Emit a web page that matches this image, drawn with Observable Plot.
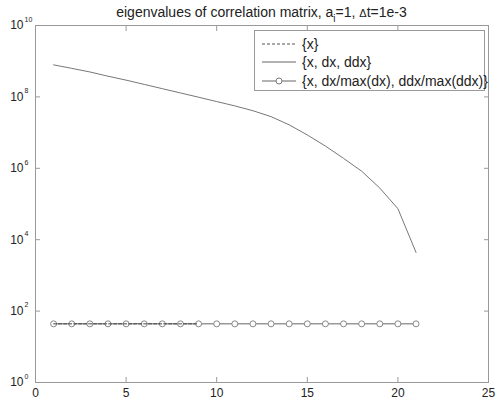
<!DOCTYPE html>
<html><head><meta charset="utf-8">
<script src="https://cdn.jsdelivr.net/npm/d3@7"></script>
<script src="https://cdn.jsdelivr.net/npm/@observablehq/plot@0.6"></script>
<style>
body{margin:0;background:#fff;font-family:"Liberation Sans",Arial,sans-serif;}
#wrap{position:relative;width:496px;height:409px;}
#title{position:absolute;left:0;width:523px;top:4px;text-align:center;font-size:14px;line-height:16px;color:#222;}
#legend{position:absolute;left:254px;top:30px;width:229px;height:59px;border:1px solid #999;background:#fff;font-size:14px;color:#222;}
.row{position:absolute;left:0;height:18px;white-space:nowrap;}
.row svg{position:absolute;left:7px;top:0;}
.row span{position:absolute;left:47px;top:1px;line-height:16px;}
</style></head>
<body>
<div id="wrap">
<div id="chart"></div>
<div id="title">eigenvalues of correlation matrix, a<sub style="font-size:10px;vertical-align:-5px;line-height:0">i</sub>=1, <span style="font-size:11px">&Delta;</span>t=1e-3</div>
<div id="legend">
 <div class="row" style="top:4px"><svg width="36" height="18"><line x1="0" x2="34" y1="9" y2="9" stroke="#555" stroke-dasharray="3,2"/></svg><span>{x}</span></div>
 <div class="row" style="top:22px"><svg width="36" height="18"><line x1="0" x2="34" y1="9" y2="9" stroke="#666"/></svg><span>{x, dx, ddx}</span></div>
 <div class="row" style="top:41px"><svg width="36" height="18"><line x1="0" x2="34" y1="9" y2="9" stroke="#666"/><circle cx="17" cy="9" r="3" fill="#fff" stroke="#777"/></svg><span>{x, dx/max(dx), ddx/max(ddx)}</span></div>
</div>
</div>
<script>
const xIdx = d3.range(1, 22);
const xOnly = [44, 44, 44, 44, 44, 44, 44, 44, 44];
const xdxddx = [7.9e8, 6.3e8, 5.0e8, 3.8e8, 2.95e8, 2.24e8, 1.7e8, 1.29e8, 9.8e7, 7.4e7, 5.6e7, 4.1e7, 2.8e7, 1.65e7, 8.6e6, 4.2e6, 1.9e6, 8.3e5, 2.8e5, 7.4e4, 4.4e3];
const normed = [44, 44, 44, 44, 44, 44, 44, 44, 44, 44, 44, 44, 44, 44, 44, 44, 44, 44, 44, 44, 44];
const xTicks = [0, 5, 10, 15, 20, 25];
const yExps = [0, 2, 4, 6, 8, 10];

const dashData = xOnly.map((v, i) => ({x: xIdx[i], y: v}));
const solidData = xdxddx.map((v, i) => ({x: xIdx[i], y: v}));
const circData = normed.map((v, i) => ({x: xIdx[i], y: v}));
const yTickData = yExps.map(e => ({e, v: Math.pow(10, e)}));

const plot = Plot.plot({
  width: 496, height: 409,
  marginLeft: 35, marginRight: 8, marginTop: 25, marginBottom: 27,
  style: {fontFamily: "Liberation Sans, Arial, sans-serif", fontSize: "12px", color: "#222", background: "#fff"},
  x: {domain: [0, 25], ticks: xTicks},
  y: {type: "log", domain: [1, 1e10], ticks: yExps.map(e => Math.pow(10, e))},
  marks: [
    Plot.frame({stroke: "#999"}),
    Plot.axisX({ticks: xTicks, tickSize: -5, tickPadding: 11, stroke: "#999", fontSize: 12, label: null}),
    Plot.axisX({anchor: "top", ticks: xTicks, tickSize: -5, tickFormat: () => "", stroke: "#999", label: null}),
    Plot.axisY({anchor: "left", ticks: yTickData.map(d => d.v), tickSize: -5, tickFormat: () => "", stroke: "#999", label: null}),
    Plot.axisY({anchor: "right", ticks: yTickData.map(d => d.v), tickSize: -5, tickFormat: () => "", stroke: "#999", label: null}),
    Plot.text(yTickData, {y: "v", text: () => "10", frameAnchor: "left", textAnchor: "end", dx: -12, fontSize: 12, fill: "#222"}),
    Plot.text(yTickData, {y: "v", text: d => String(d.e), frameAnchor: "left", textAnchor: "start", dx: -11, dy: -6, fontSize: 7, fill: "#222"}),
    Plot.line(solidData, {x: "x", y: "y", stroke: "#777", strokeWidth: 1}),
    Plot.line(circData, {x: "x", y: "y", stroke: "#666", strokeWidth: 1}),
    Plot.dot(circData, {x: "x", y: "y", r: 3, fill: "#fff", stroke: "#888", strokeWidth: 1}),
    Plot.line(dashData, {x: "x", y: "y", stroke: "#444", strokeWidth: 1, strokeDasharray: "3,2"})
  ]
});
document.getElementById("chart").appendChild(plot);
</script>
</body></html>
